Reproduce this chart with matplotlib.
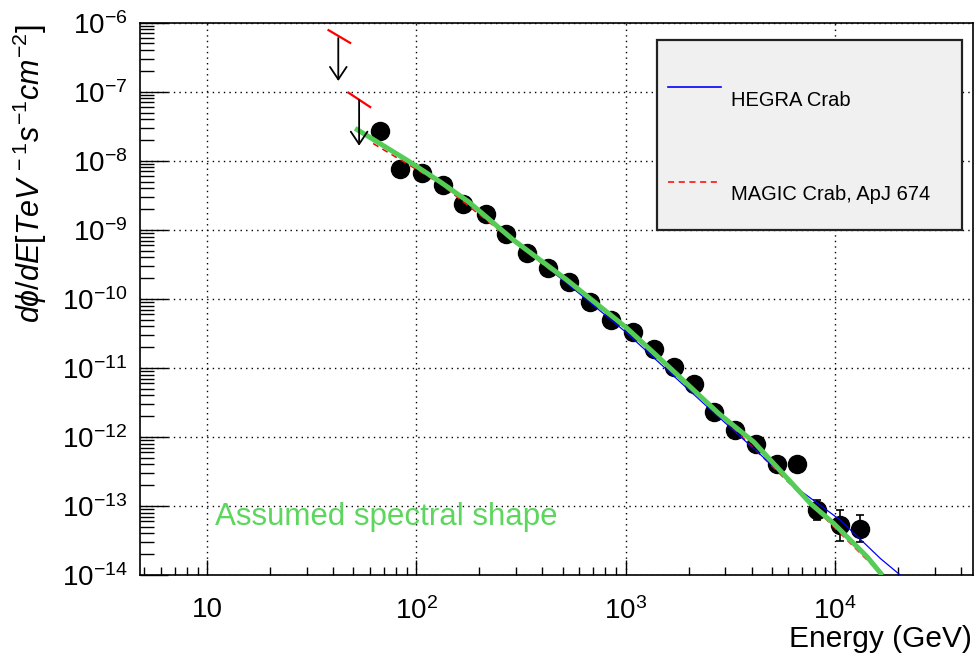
import numpy as np
import matplotlib
matplotlib.use("Agg")
import matplotlib.pyplot as plt
from matplotlib.ticker import LogLocator, FixedLocator, FixedFormatter, NullFormatter
from matplotlib.patches import Rectangle
from matplotlib.lines import Line2D

plt.rcParams['font.family'] = ['Liberation Sans', 'DejaVu Sans']
plt.rcParams['mathtext.fontset'] = 'custom'
plt.rcParams['mathtext.rm'] = 'Liberation Sans'
plt.rcParams['mathtext.it'] = 'Liberation Sans:italic'
plt.rcParams['mathtext.bf'] = 'Liberation Sans:bold'

# ---------------- data ----------------
energy = [67.0, 83.4, 106.2, 133.7, 166.7, 214.8, 267.9, 337.3, 423.6, 533.3,
          677.5, 855.1, 1084, 1361, 1698, 2113, 2630, 3350, 4217, 5297,
          6607, 8241, 10617, 13183]
flux = [2.7e-8, 7.5e-9, 6.6e-9, 4.45e-9, 2.33e-9, 1.67e-9, 8.7e-10, 4.55e-10,
        2.76e-10, 1.76e-10, 9.1e-11, 4.9e-11, 3.3e-11, 1.9e-11, 1.03e-11,
        5.9e-12, 2.26e-12, 1.25e-12, 7.8e-13, 4.1e-13, 4.1e-13, 8.7e-14,
        5.3e-14, 4.7e-14]
flux_err_low = [0]*21 + [2.5e-14, 2.15e-14, 1.7e-14]
flux_err_high = [0]*21 + [3.4e-14, 3.4e-14, 2.6e-14]

# upper limits
ul_energy = [42.3, 53.2]
ul_top = [6.0e-7, 7.6e-8]
ul_bottom = [1.43e-7, 1.65e-8]
ul_seg_energy = [[38.0, 48.2], [47.3, 60.1]]
ul_seg_flux = [[7.8e-7, 5.1e-7], [9.7e-8, 6.0e-8]]

# assumed spectral shape (green)
assumed_logE = [1.707, 1.954, 2.113, 2.249, 2.464, 2.720, 3.002, 3.198, 3.445,
                3.612, 3.884, 3.995, 4.155, 4.227]
assumed_logF = [-7.530, -7.990, -8.304, -8.594, -9.149, -9.728, -10.414,
                -10.961, -11.661, -12.072, -12.965, -13.255, -13.739, -14.004]

# MAGIC Crab (red dashed)
magic_logE = [1.793, 2.113, 2.464, 3.002, 3.445, 3.884, 4.227]
magic_logF = [-7.75, -8.33, -9.17, -10.43, -11.67, -12.97, -14.0]

# HEGRA Crab (blue)
hegra_logE = [2.55, 3.0, 3.373, 3.836, 4.027, 4.218, 4.314]
hegra_logF = [-9.35, -10.48, -11.516, -12.78, -13.207, -13.762, -14.004]

x_major = [10, 100, 1000, 10000]
x_labels = ['10', r'$10^{2}$', r'$10^{3}$', r'$10^{4}$']
y_major = [1e-14, 1e-13, 1e-12, 1e-11, 1e-10, 1e-9, 1e-8, 1e-7, 1e-6]
y_labels = [r'$10^{-14}$', r'$10^{-13}$', r'$10^{-12}$', r'$10^{-11}$',
            r'$10^{-10}$', r'$10^{-9}$', r'$10^{-8}$', r'$10^{-7}$', r'$10^{-6}$']

# ---------------- figure ----------------
W, H = 976, 659
fig = plt.figure(figsize=(W/100, H/100), dpi=100)
L, R, T, B = 140, 973.3, 22.7, 575
ax = fig.add_axes([L/W, 1-B/H, (R-L)/W, (B-T)/H])
ax.set_xscale('log')
ax.set_yscale('log')
ax.set_xlim(4.77, 45900)
ax.set_ylim(1e-14, 1e-6)

# grid
ax.grid(True, which='major', color='black', linestyle=(0, (1, 3)), linewidth=1.0)
ax.set_axisbelow(True)

# points
ax.plot(energy, flux, 'o', color='black', markersize=13, zorder=3)
e = np.array(energy); f = np.array(flux)
lo = np.array(flux_err_low); hi = np.array(flux_err_high)
m = (lo > 0) | (hi > 0)
ax.errorbar(e[m], f[m], yerr=[lo[m], hi[m]], fmt='none', ecolor='black',
            elinewidth=1.2, capsize=3, capthick=1.2, zorder=3)

# curves
ax.plot(10**np.array(magic_logE), 10**np.array(magic_logF), color='red',
        linestyle=(0, (4, 3)), linewidth=1.1, zorder=4)
ax.plot(10**np.array(hegra_logE), 10**np.array(hegra_logF), color='#0000ff',
        linewidth=0.9, zorder=4)
ax.plot(10**np.array(assumed_logE), 10**np.array(assumed_logF), color='#55cc55',
        linewidth=3.6, zorder=5, solid_capstyle='butt')

# upper limits
for i in range(len(ul_energy)):
    ax.plot(ul_seg_energy[i], ul_seg_flux[i], color='red', linewidth=1.6, zorder=5)
    ax.annotate('', xy=(ul_energy[i], ul_bottom[i]), xytext=(ul_energy[i], ul_top[i]),
                arrowprops=dict(arrowstyle='->,head_length=0.9,head_width=0.6',
                                color='black', lw=1.3, shrinkA=0, shrinkB=0),
                zorder=5)

# ticks
ax.xaxis.set_major_locator(FixedLocator(x_major))
ax.xaxis.set_major_formatter(FixedFormatter(x_labels))
ax.xaxis.set_minor_locator(LogLocator(base=10, subs=range(2, 10), numticks=20))
ax.xaxis.set_minor_formatter(NullFormatter())
ax.yaxis.set_major_locator(FixedLocator(y_major))
ax.yaxis.set_major_formatter(FixedFormatter(y_labels))
ax.yaxis.set_minor_locator(LogLocator(base=10, subs=range(2, 10), numticks=20))
ax.yaxis.set_minor_formatter(NullFormatter())

ax.tick_params(axis='x', which='major', direction='in', length=11, width=1.0,
               labelsize=20, pad=16, top=False)
ax.tick_params(axis='x', which='minor', direction='in', length=6, width=1.0, top=False)
ax.tick_params(axis='y', which='major', direction='in', length=20, width=1.0,
               labelsize=20, pad=9, right=False)
ax.tick_params(axis='y', which='minor', direction='in', length=10, width=1.0, right=False)
for s in ax.spines.values():
    s.set_linewidth(1.2)

# axis titles
fig.text(30/W, 1-24/H, r'$d\phi/dE[TeV^{\,-1}s^{-1}cm^{-2}]$', rotation=90,
         ha='center', va='top', fontsize=22)
fig.text(972/W, 1-647/H, 'Energy (GeV)', ha='right', va='baseline', fontsize=21.5)

# annotation
fig.text(215/W, 1-517/H, 'Assumed spectral shape', color='#5cd65c',
         ha='left', va='center', fontsize=22.5)

# legend
fig.patches.append(Rectangle((656.7/W, 1-230/H), (961.7-656.7)/W, (230-40)/H,
                             transform=fig.transFigure, facecolor='#f0f0f0',
                             edgecolor='#222222', linewidth=1.6, zorder=10))
fig.lines.append(Line2D([667.7/W, 721/W], [1-87.3/H, 1-87.3/H], color='#0000ff',
                        linewidth=1.2, transform=fig.transFigure, zorder=11))
fig.lines.append(Line2D([667.7/W, 721/W], [1-182.3/H, 1-182.3/H], color='red',
                        linewidth=1.1, linestyle=(0, (4, 3)),
                        transform=fig.transFigure, zorder=11))
fig.text(731/W, 1-100/H, 'HEGRA Crab', ha='left', va='center', fontsize=14.5, zorder=12)
fig.text(731/W, 1-195/H, 'MAGIC Crab, ApJ 674', ha='left', va='center',
         fontsize=14.5, zorder=12)

fig.savefig('out.png', dpi=100)
